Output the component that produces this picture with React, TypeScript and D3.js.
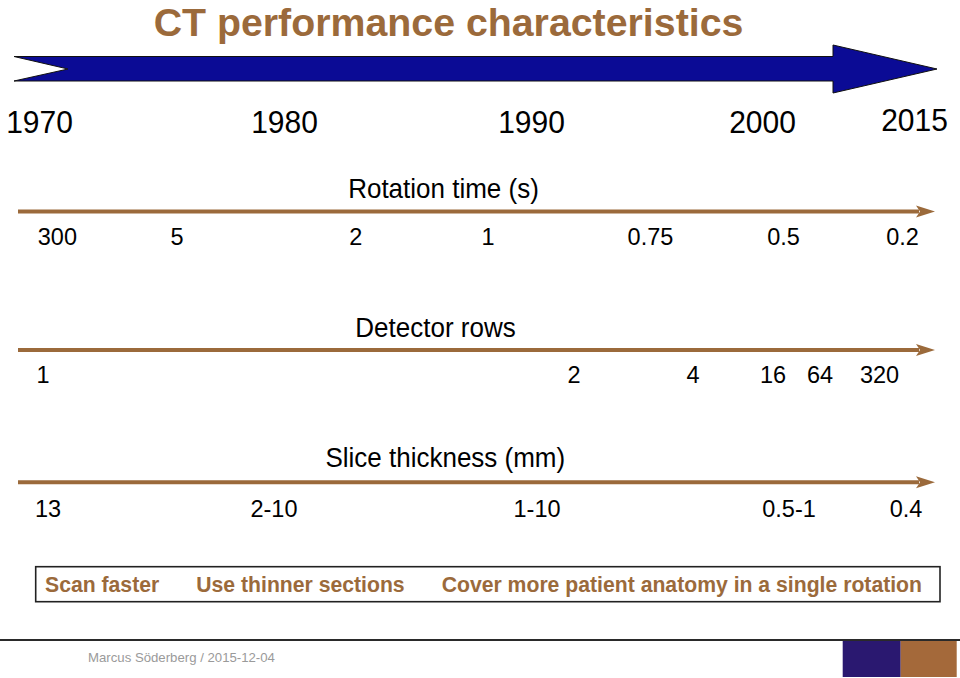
import React from "react";
import * as d3 from "d3";

// ---- data ----
const title = "CT performance characteristics";
const yearTicks = [1970, 1980, 1990, 2000, 2015];

const rotationLabels = ["300", "5", "2", "1", "0.75", "0.5", "0.2"];
const rotationYears = [1970.73, 1975.61, 1982.89, 1988.24, 1995.15, 2002.07, 2013.82];

const detectorLabels = ["1", "2", "4", "16", "64", "320"];
const detectorYears = [1970.14, 1991.84, 1996.99, 2001.04, 2005.67, 2011.55];

const sliceLabels = ["13", "2-10", "1-10", "0.5-1", "0.4"];
const sliceYears = [1970.35, 1979.57, 1990.24, 2002.62, 2014.16];

const rowTitles = ["Rotation time (s)", "Detector rows", "Slice thickness (mm)"];
const goals = ["Scan faster", "Use thinner sections", "Cover more patient anatomy in a single rotation"];
const footer = "Marcus Söderberg / 2015-12-04";

// ---- style ----
const W = 960;
const H = 678;
const FONT = "'Liberation Sans', Arial, Helvetica, sans-serif";
const BROWN = "#9b6a3b";
const BLUE = "#0b0b95";

export default function App() {
  const x = d3
    .scaleLinear()
    .domain(yearTicks)
    .range([39.5, 284.5, 531.5, 762.5, 914.5]);

  const rows = [
    { title: rowTitles[0], titleX: 443.5, titleY: 198, lineY: 211.5, labelY: 245, labels: rotationLabels, years: rotationYears },
    { title: rowTitles[1], titleX: 435.5, titleY: 337, lineY: 350, labelY: 383, labels: detectorLabels, years: detectorYears },
    { title: rowTitles[2], titleX: 445.3, titleY: 467, lineY: 482.3, labelY: 517, labels: sliceLabels, years: sliceYears },
  ];

  const lineStart = 18;
  const tipX = 935;
  const headBack = 916;

  // big blue arrow
  const bigArrow = d3.path();
  bigArrow.moveTo(14, 56.5);
  bigArrow.lineTo(833, 56.5);
  bigArrow.lineTo(833, 45);
  bigArrow.lineTo(937, 69);
  bigArrow.lineTo(833, 93);
  bigArrow.lineTo(833, 81);
  bigArrow.lineTo(14, 81);
  bigArrow.lineTo(68, 69);
  bigArrow.closePath();

  return (
    <svg
      width={W}
      height={H}
      viewBox={`0 0 ${W} ${H}`}
      style={{ position: "absolute", left: 0, top: 0, display: "block", background: "#fff" }}
      fontFamily={FONT}
    >
      <rect x={0} y={0} width={W} height={H} fill="#fff" />
      <text x={448.5} y={35.5} textAnchor="middle" fontSize={39.3} fontWeight="bold" fill={BROWN}>
        {title}
      </text>

      <path d={bigArrow.toString()} fill={BLUE} stroke="#111" strokeWidth={1} strokeLinejoin="miter" />

      {yearTicks.map((yr, i) => (
        <text
          key={yr}
          transform={`translate(${x(yr)},${i === yearTicks.length - 1 ? 131 : 133}) scale(1,1.07)`}
          textAnchor="middle"
          fontSize={30}
          fill="#000"
        >
          {yr}
        </text>
      ))}

      {rows.map((r) => {
        const head = d3.path();
        head.moveTo(tipX, r.lineY);
        head.lineTo(headBack, r.lineY - 6);
        head.lineTo(headBack + 4, r.lineY);
        head.lineTo(headBack, r.lineY + 6);
        head.closePath();
        return (
          <g key={r.title}>
            <text
              transform={`translate(${r.titleX},${r.titleY}) scale(1,1.04)`}
              textAnchor="middle"
              fontSize={26}
              fill="#000"
            >
              {r.title}
            </text>
            <line x1={lineStart} x2={headBack + 3} y1={r.lineY} y2={r.lineY} stroke={BROWN} strokeWidth={4} />
            <path d={head.toString()} fill={BROWN} />
            {r.labels.map((lab, i) => (
              <text
                key={lab}
                transform={`translate(${x(r.years[i])},${r.labelY}) scale(1,1.05)`}
                textAnchor="middle"
                fontSize={23.5}
                fill="#000"
              >
                {lab}
              </text>
            ))}
          </g>
        );
      })}

      <rect x={35.7} y={566.7} width={904.3} height={35} fill="none" stroke="#222" strokeWidth={1.6} />
      <text x={45} y={591.5} fontSize={21.2} fontWeight="bold" fill={BROWN}>
        {goals.map((g, i) => (
          <tspan key={g} dx={i === 0 ? 0 : 37}>
            {g}
          </tspan>
        ))}
      </text>

      <line x1={0} x2={W} y1={640} y2={640} stroke="#2a2a2a" strokeWidth={2} />
      <text x={88} y={661.5} fontSize={13.2} fill="#9a9a9a">
        {footer}
      </text>
      <rect x={842.7} y={641} width={58} height={36} fill="#2a1870" />
      <rect x={900.7} y={641} width={56} height={36} fill="#a4693a" />
    </svg>
  );
}
